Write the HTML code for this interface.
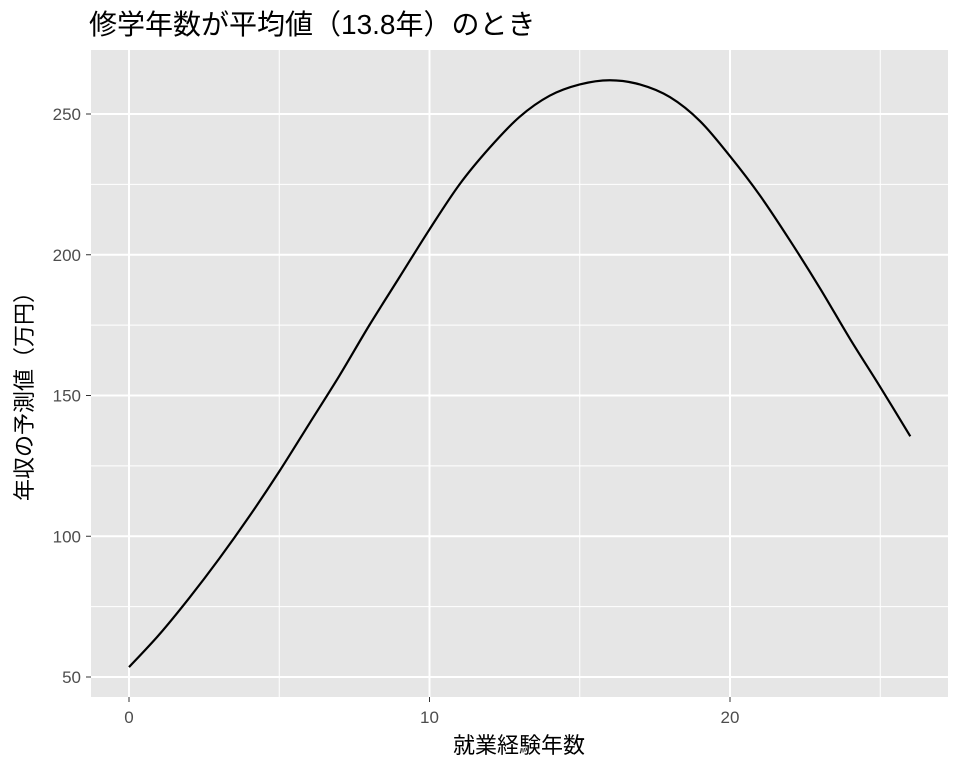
<!DOCTYPE html>
<html><head><meta charset="utf-8"><style>
body{margin:0;background:#fff;}
svg text{font-family:"Liberation Sans","Noto Sans CJK JP",sans-serif;}
</style></head><body>
<svg id="chart" width="960" height="768">
<text x="89" y="34" font-size="28" fill="#000">修学年数が平均値（13.8年）のとき</text>
<rect x="91" y="50" width="857" height="647" fill="#E6E6E6"/>
<g id="grid"></g>
<g id="axes"></g>
<path id="line" fill="none" stroke="#000" stroke-width="2.2"/>
<text x="519" y="753" font-size="22" text-anchor="middle" fill="#000">就業経験年数</text>
<text transform="translate(32,391) rotate(-90)" font-size="22" text-anchor="middle" fill="#000">年収の予測値（万円）</text>
</svg>
<script>
const years=[0,1,2,3,4,5,6,7,8,9,10,11,12,13,14,15,16,17,18,19,20,21,22,23,24,25,26];
const income=[53.5,65,78,92,107,123,140,157,175,192,209,225,238,249,256.5,260.5,262,260.5,256,247.5,235,221,205,188,170,153,135.5];
const xTicks=[0,10,20];
const xMinor=[5,15,25];
const yTicks=[50,100,150,200,250];
const yMinor=[75,125,175,225];
const X=v=>129+v*30.05;
const Y=v=>677-(v-50)*2.815;
const ns="http://www.w3.org/2000/svg";
const grid=document.getElementById('grid'),axes=document.getElementById('axes');
function ln(p,x1,y1,x2,y2,c,w,name){const l=document.createElementNS(ns,'line');
l.setAttribute('x1',x1);l.setAttribute('y1',y1);l.setAttribute('x2',x2);l.setAttribute('y2',y2);
l.setAttribute('stroke',c);l.setAttribute('stroke-width',w);


p.appendChild(l);}
function tx(x,y,s,a,name){const t=document.createElementNS(ns,'text');
t.setAttribute('x',x);t.setAttribute('y',y);t.setAttribute('font-size','17');t.setAttribute('fill','#4D4D4D');t.setAttribute('text-anchor',a);t.textContent=s;


axes.appendChild(t);}
xMinor.forEach(v=>ln(grid,X(v),50,X(v),697,'#fff',1,'x-minor-grid'));
yMinor.forEach(v=>ln(grid,91,Y(v),948,Y(v),'#fff',1,'y-minor-grid'));
xTicks.forEach(v=>{ln(grid,X(v),50,X(v),697,'#fff',2,'x-major-grid');ln(axes,X(v),697,X(v),702,'#333',1,'x-tick');tx(X(v),723,v,'middle','x-tick-label');});
yTicks.forEach(v=>{ln(grid,91,Y(v),948,Y(v),'#fff',2,'y-major-grid');ln(axes,86,Y(v),91,Y(v),'#333',1,'y-tick');tx(81,Y(v)+6,v,'end','y-tick-label');});
const pts=years.map((v,i)=>[X(v),Y(income[i])]);
let d='M'+pts[0][0]+','+pts[0][1];
for(let i=0;i<pts.length-1;i++){const p0=pts[Math.max(0,i-1)],p1=pts[i],p2=pts[i+1],p3=pts[Math.min(pts.length-1,i+2)];
d+=' C'+(p1[0]+(p2[0]-p0[0])/6)+','+(p1[1]+(p2[1]-p0[1])/6)+' '+(p2[0]-(p3[0]-p1[0])/6)+','+(p2[1]-(p3[1]-p1[1])/6)+' '+p2[0]+','+p2[1];}
document.getElementById('line').setAttribute('d',d);
</script>
</body></html>
